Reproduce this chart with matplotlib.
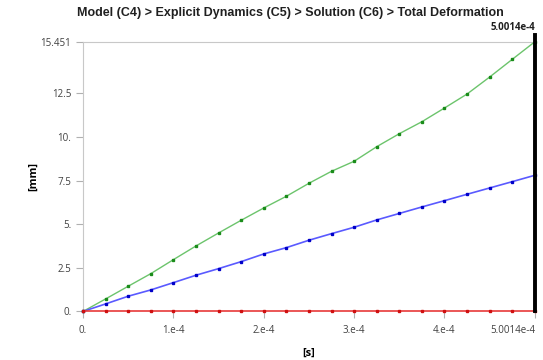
import matplotlib.pyplot as plt

# time steps [s]
t_end = 5.0014e-4
tempo = [i * t_end / 20 for i in range(21)]

verde = [0.0, 0.716, 1.443, 2.165, 2.967, 3.751, 4.496, 5.223, 5.928, 6.598, 7.342,
         8.030, 8.603, 9.439, 10.183, 10.870, 11.655, 12.457, 13.431, 14.444, 15.451]
azul = [0.0, 0.430, 0.871, 1.231, 1.649, 2.073, 2.451, 2.852, 3.293, 3.654, 4.078,
        4.456, 4.822, 5.241, 5.613, 5.985, 6.346, 6.712, 7.073, 7.434, 7.801]
vermelho = [0.0] * 21

yticks = [0, 2.5, 5, 7.5, 10, 12.5, 15.451]
ylabels = ["0.", "2.5", "5.", "7.5", "10.", "12.5", "15.451"]
xticks = [0, 1e-4, 2e-4, 3e-4, 4e-4, t_end]
xlabels = ["0.", "1.e-4", "2.e-4", "3.e-4", "4.e-4", "5.0014e-4"]

plt.rcParams['font.family'] = ['Open Sans', 'DejaVu Sans']

fig = plt.figure(figsize=(5.43, 3.6), dpi=100)
ax = fig.add_axes([0.153, 0.135, 0.832, 0.749])

ax.plot(tempo, verde, color="#6cc46c", lw=1.0, marker="s", ms=1.6,
        mfc="#1a8c1a", mec="#1a8c1a", clip_on=False, zorder=3)
ax.plot(tempo, azul, color="#5a5aff", lw=1.2, marker="s", ms=1.6,
        mfc="#0000c8", mec="#0000c8", clip_on=False, zorder=3)
ax.plot(tempo, vermelho, color="#e83a3a", lw=1.2, marker="s", ms=1.6,
        mfc="#d01010", mec="#d01010", clip_on=False, zorder=4)

ax.set_xlim(0, t_end)
ax.set_ylim(0, 15.451)

# cursor
ax.plot([t_end, t_end], [0, 15.85], color="black", lw=2.8, clip_on=False, zorder=5)
ax.text(t_end, 15.95, "5.0014e-4", ha="right", va="bottom", fontsize=7,
        fontweight="bold", color="#202020")

ax.set_yticks(yticks)
ax.set_yticklabels(ylabels)
ax.set_xticks(xticks)
ax.set_xticklabels(xlabels)
ax.get_xticklabels()[-1].set_ha("right")
ax.get_xticklabels()[-1].set_x(t_end)
ax.tick_params(axis="both", colors="#b0b0b0", labelcolor="#404040",
               labelsize=7, length=5, width=0.8)
ax.tick_params(axis="x", pad=5)

for s in ["top", "left"]:
    ax.spines[s].set_color("#c8c8c8")
ax.spines["right"].set_visible(False)
ax.spines["bottom"].set_visible(False)

ax.set_xlabel("[s]", fontsize=8, fontweight="bold", labelpad=8)
ax.set_ylabel("[mm]", fontsize=8, fontweight="bold", labelpad=1)
fig.suptitle("Model (C4) > Explicit Dynamics (C5) > Solution (C6) > Total Deformation",
             x=0.535, y=0.98, fontsize=9, fontweight="bold",
             family="Liberation Sans", color="#202020")

plt.savefig("out.png", dpi=100)
